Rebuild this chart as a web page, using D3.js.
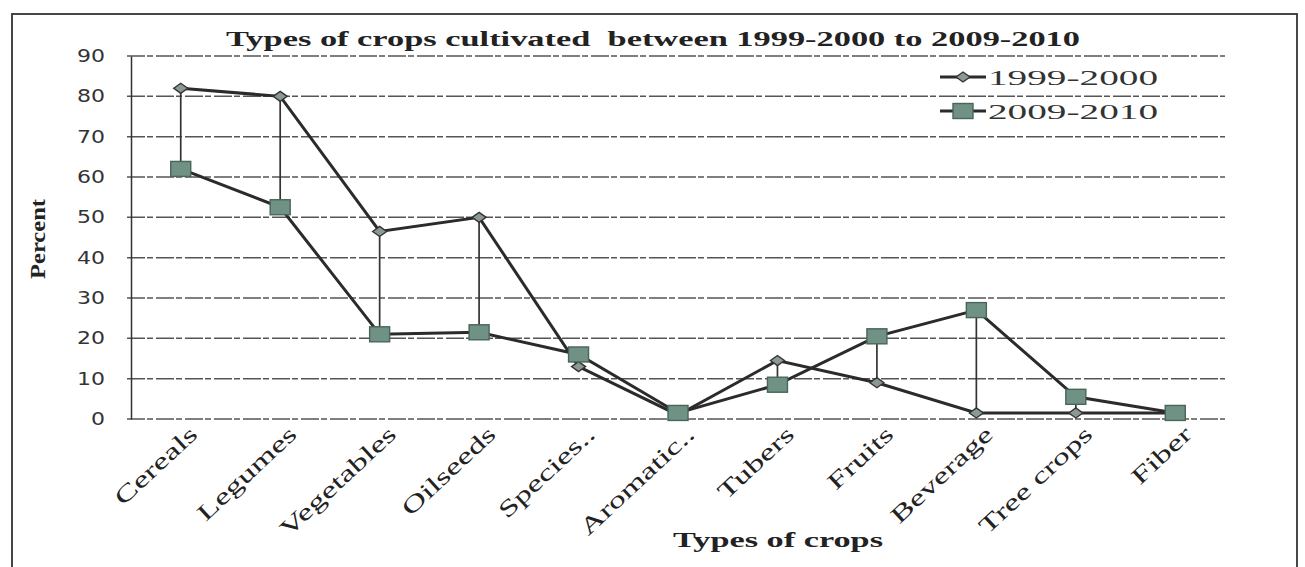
<!DOCTYPE html>
<html>
<head>
<meta charset="utf-8">
<script src="https://cdn.jsdelivr.net/npm/d3@7/dist/d3.min.js"></script>
<style>
  html, body { margin: 0; padding: 0; background: #fff; }
  svg { display: block; }
</style>
</head>
<body>
<svg id="chart" width="1305" height="567"></svg>
<script>
// Crop categories and share (%) of farms cultivating each type
const categories = ["Cereals", "Legumes", "Vegetables", "Oilseeds", "Species..", "Aromatic..",
                    "Tubers", "Fruits", "Beverage", "Tree crops", "Fiber"];
const series1999 = [82, 80, 46.5, 50, 13, 1, 14.5, 9, 1.5, 1.5, 1.5];
const series2009 = [62, 52.5, 21, 21.5, 16, 1.5, 8.5, 20.5, 27, 5.5, 1.5];
const seriesNames = ["1999-2000", "2009-2010"];
const yTicks = [0, 10, 20, 30, 40, 50, 60, 70, 80, 90];

const svg = d3.select("#chart");
const plot = { left: 131, right: 1225, top: 56, bottom: 419 };

const x = d3.scalePoint().domain(categories).range([plot.left, plot.right]).padding(0.5);
const y = d3.scaleLinear().domain([0, 90]).range([plot.bottom, plot.top]);

const serif = "'Liberation Serif', 'Times New Roman', serif";
const sans = "'DejaVu Sans', 'Noto Sans', sans-serif";

// Outer chart frame
svg.append("rect")
  .attr("x", 12).attr("y", 14).attr("width", 1285).attr("height", 600)
  .attr("fill", "none").attr("stroke", "#333").attr("stroke-width", 1.8);

// Horizontal gridlines
svg.append("g")
  .selectAll("line")
  .data(yTicks)
  .join("line")
  .attr("x1", plot.left - 4).attr("x2", plot.right)
  .attr("y1", d => y(d)).attr("y2", d => y(d))
  .attr("stroke", "#555").attr("stroke-width", 1.5)
  .attr("stroke-dasharray", "18,2,6,3");

// Y axis
const yAxis = d3.axisLeft(y).tickValues(yTicks).tickSize(0).tickPadding(26);
const gy = svg.append("g").attr("transform", `translate(${plot.left},0)`).call(yAxis);
gy.select(".domain").attr("stroke", "#333").attr("stroke-width", 1.5);
gy.selectAll("text")
  .attr("font-family", sans).attr("font-size", 17).attr("fill", "#333")
  .attr("textLength", d => String(d).length * 14)
  .attr("lengthAdjust", "spacingAndGlyphs");

// X axis labels, rotated, with wide lettering along the baseline
const xAxis = d3.axisBottom(x).tickSize(0).tickPadding(0);
const gx = svg.append("g").attr("transform", `translate(0,${plot.bottom})`).call(xAxis);
gx.select(".domain").remove();
gx.selectAll(".tick").attr("transform", d => `translate(${x(d) + 18},17)`);
gx.selectAll("text")
  .attr("font-family", serif).attr("font-size", 23).attr("fill", "#222")
  .attr("text-anchor", "end")
  .attr("y", 0).attr("dy", null)
  .attr("transform", "rotate(-43) scale(1.5,1)");

// High-low lines between the two periods
svg.append("g")
  .selectAll("line")
  .data(categories)
  .join("line")
  .attr("x1", d => x(d)).attr("x2", d => x(d))
  .attr("y1", (d, i) => y(series1999[i])).attr("y2", (d, i) => y(series2009[i]))
  .attr("stroke", "#333").attr("stroke-width", 1.7);

const line = d3.line().x((d, i) => x(categories[i])).y(d => y(d));

// 2009-2010 series
svg.append("path").datum(series2009)
  .attr("d", line).attr("fill", "none").attr("stroke", "#2b2b2b").attr("stroke-width", 3);

// 1999-2000 series
svg.append("path").datum(series1999)
  .attr("d", line).attr("fill", "none").attr("stroke", "#2b2b2b").attr("stroke-width", 3);

const diamond = (g, cx, cy) => g.append("path")
  .attr("d", `M${cx - 7},${cy} L${cx},${cy - 5} L${cx + 7},${cy} L${cx},${cy + 5} Z`)
  .attr("fill", "#8a9a92").attr("stroke", "#333").attr("stroke-width", 1.4);

const square = (g, cx, cy) => g.append("rect")
  .attr("x", cx - 10).attr("y", cy - 7.5).attr("width", 20).attr("height", 15)
  .attr("fill", "#6f9284").attr("stroke", "#4a6559").attr("stroke-width", 1.4);

const m1 = svg.append("g");
series1999.forEach((v, i) => diamond(m1, x(categories[i]), y(v)));
const m2 = svg.append("g");
series2009.forEach((v, i) => square(m2, x(categories[i]), y(v)));

// Legend
const legend = svg.append("g");
[0, 1].forEach(k => {
  const ly = 77 + k * 34;
  legend.append("line").attr("x1", 940).attr("x2", 986).attr("y1", ly).attr("y2", ly)
    .attr("stroke", "#2b2b2b").attr("stroke-width", 3);
  if (k === 0) diamond(legend, 963, ly); else square(legend, 963, ly);
  legend.append("text").attr("x", 988).attr("y", ly + 8)
    .attr("font-family", serif).attr("font-size", 22).attr("fill", "#333")
    .attr("textLength", 170).attr("lengthAdjust", "spacingAndGlyphs")
    .text(seriesNames[k]);
});

// Title
svg.append("text")
  .attr("x", 226).attr("y", 46)
  .attr("font-family", serif).attr("font-weight", "bold").attr("font-size", 20)
  .attr("fill", "#222").attr("xml:space", "preserve")
  .attr("textLength", 854).attr("lengthAdjust", "spacingAndGlyphs")
  .text("Types of crops cultivated  between 1999-2000 to 2009-2010");

// Axis titles
svg.append("text")
  .attr("x", 673).attr("y", 547)
  .attr("font-family", serif).attr("font-weight", "bold").attr("font-size", 20)
  .attr("fill", "#222")
  .attr("textLength", 210).attr("lengthAdjust", "spacingAndGlyphs")
  .text("Types of crops");

svg.append("text")
  .attr("transform", "translate(45,279) rotate(-90)")
  .attr("font-family", serif).attr("font-weight", "bold").attr("font-size", 20)
  .attr("fill", "#222")
  .attr("textLength", 80).attr("lengthAdjust", "spacingAndGlyphs")
  .text("Percent");
</script>
</body>
</html>
